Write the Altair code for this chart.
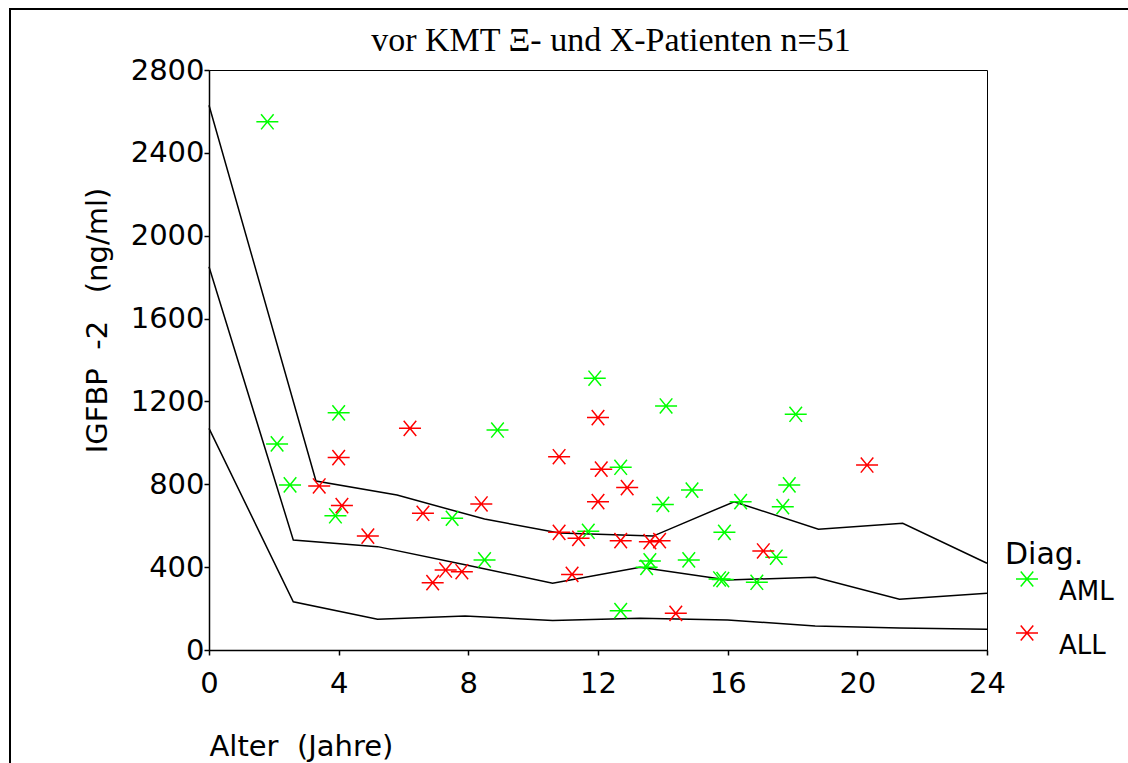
import altair as alt
import pandas as pd

# ---- data ----
aml_age = [1.8, 2.1, 2.5, 4.0, 3.9, 7.5, 8.5, 8.9, 11.9, 11.7, 12.7, 12.7, 13.6, 13.5,
           14.1, 14.0, 14.9, 14.8, 15.9, 15.75, 15.85, 16.4, 16.9, 17.5, 17.7, 17.9, 18.1]
aml_igfbp2 = [2550, 995, 797, 1145, 648, 636, 435, 1062, 1312, 573, 882, 190, 430, 399,
              1178, 703, 772, 435, 568, 343, 340, 716, 327, 448, 692, 797, 1138]

all_age = [3.4, 4.0, 4.1, 4.9, 6.2, 6.6, 6.9, 7.3, 7.8, 8.4, 10.8, 10.8, 11.4, 11.2,
           12.0, 12.1, 12.0, 12.9, 12.7, 13.6, 13.9, 14.4, 17.1, 20.3]
all_igfbp2 = [792, 929, 697, 550, 1070, 660, 325, 386, 378, 705, 933, 568, 539, 365,
              1122, 873, 716, 784, 528, 523, 528, 177, 478, 893]

upper_age = [0, 3.3, 5.8, 8.5, 10.8, 13.7, 16.2, 18.8, 21.4, 24]
upper_val = [2630, 816, 748, 632, 565, 550, 716, 583, 612, 419]
middle_age = [0, 2.6, 5.2, 7.9, 10.6, 13.3, 16.0, 18.7, 21.3, 24]
middle_val = [1850, 531, 499, 412, 322, 399, 338, 351, 245, 274]
lower_age = [0, 2.6, 5.2, 7.9, 10.6, 13.3, 16.0, 18.7, 21.3, 24]
lower_val = [1070, 233, 148, 164, 142, 153, 145, 116, 106, 100]

x_ticks = [0, 4, 8, 12, 16, 20, 24]
y_ticks = [0, 400, 800, 1200, 1600, 2000, 2400, 2800]
groups = ["AML", "ALL"]
colors = ["#00ff00", "#ff0000"]

title_text = "vor KMT \u039e- und X-Patienten n=51"
x_title = "Alter\u00a0\u00a0(Jahre)"
y_title = "IGFBP\u00a0\u00a0-2\u00a0\u00a0\u00a0(ng/ml)"

# ---- tables ----
pts = pd.DataFrame({
    "age": aml_age + all_age,
    "igfbp2": aml_igfbp2 + all_igfbp2,
    "Diag": ["AML"] * len(aml_age) + ["ALL"] * len(all_age),
})
ref = pd.DataFrame({
    "age": upper_age + middle_age + lower_age,
    "igfbp2": upper_val + middle_val + lower_val,
    "curve": ["upper"] * len(upper_age) + ["middle"] * len(middle_age) + ["lower"] * len(lower_age),
})

STAR = "M-1,0L1,0M-0.57,-0.69L0.57,0.69M-0.57,0.69L0.57,-0.69"
FONT = "DejaVu Sans"

x_enc = alt.X("age:Q", title=x_title,
              scale=alt.Scale(domain=[0, 24], nice=False, zero=False),
              axis=alt.Axis(values=x_ticks, format="d", grid=False,
                            domainColor="black", domainWidth=1.5,
                            tickColor="black", tickSize=5, tickWidth=1.5,
                            labelFont=FONT, labelFontSize=29, labelColor="black",
                            labelPadding=14, labelFlush=False, labelOverlap=False,
                            titleFont=FONT, titleFontSize=29, titleFontWeight="normal",
                            titleColor="black", titleX=0, titleY=105,
                            titleAlign="left", titleBaseline="alphabetic"))
y_enc = alt.Y("igfbp2:Q", title=y_title,
              scale=alt.Scale(domain=[0, 2800], nice=False),
              axis=alt.Axis(values=y_ticks, format="d", grid=False,
                            domainColor="black", domainWidth=1.5,
                            tickColor="black", tickSize=5, tickWidth=1.5,
                            labelFont=FONT, labelFontSize=29, labelColor="black",
                            labelPadding=0, labelOverlap=False, labelFlush=False,
                            titleFont=FONT, titleFontSize=29, titleFontWeight="normal",
                            titleColor="black", titleAngle=270, titleX=-112, titleY=250,
                            titleAlign="center", titleBaseline="middle"))

frame = alt.Chart(pd.DataFrame({"k": [0]})).mark_rect(
    fillOpacity=0, stroke="black", strokeWidth=2
).encode(x=alt.value(-199), x2=alt.value(935), y=alt.value(-61), y2=alt.value(720))

lines = alt.Chart(ref).mark_line(color="black", strokeWidth=1.5).encode(
    x=x_enc, y=y_enc, detail="curve:N"
)

scatter = alt.Chart(pts).mark_point(
    shape=STAR, filled=False, size=484, strokeWidth=1.5, opacity=1
).encode(
    x=x_enc, y=y_enc,
    color=alt.Color("Diag:N", scale=alt.Scale(domain=groups, range=colors),
                    legend=alt.Legend(title="Diag.", orient="none", legendX=796, legendY=470,
                                      titleFont=FONT, titleFontSize=30, titleFontWeight="normal",
                                      titleColor="black", titlePadding=-4,
                                      labelFont=FONT, labelFontSize=26, labelColor="black",
                                      labelBaseline="top", labelOffset=19,
                                      symbolType=STAR, symbolSize=484, symbolStrokeWidth=1.5,
                                      symbolOffset=9, rowPadding=15, padding=0)),
)

chart = alt.layer(frame, lines, scatter).properties(
    width=778, height=580,
    autosize=alt.AutoSizeParams(type="none"),
    padding={"left": 209, "top": 70, "right": 141, "bottom": 113},
    title=alt.TitleParams(text=title_text, font="Liberation Serif", fontSize=34,
                          fontWeight="normal", color="black", anchor="middle",
                          frame="group", dx=13, dy=77, offset=0, baseline="alphabetic"),
    background="white",
).configure_view(stroke="black", strokeWidth=1)

chart.save("out.html", embed_options={"renderer": "svg", "actions": False})
